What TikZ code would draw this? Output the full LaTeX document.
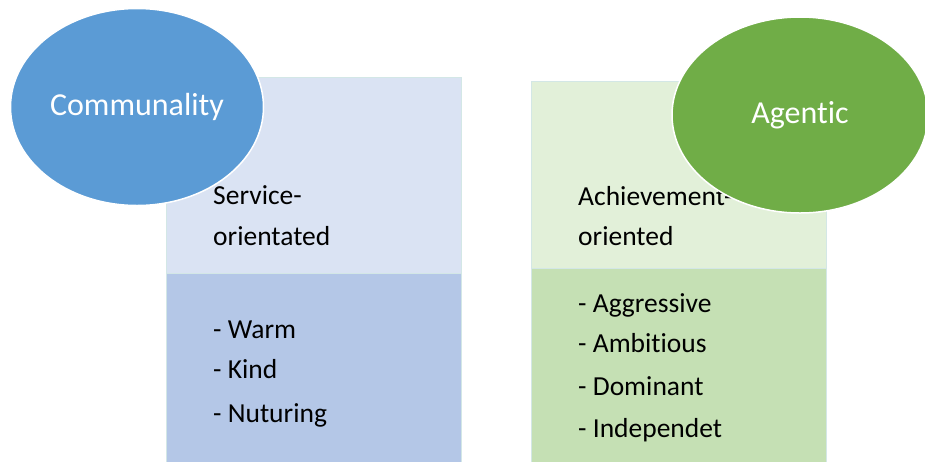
\documentclass[tikz,border=0pt]{standalone}
\usepackage{fontspec}
\setmainfont{Carlito}[Ligatures=NoCommon]
\usetikzlibrary{shapes.geometric}
\pgfdeclarelayer{background}
\pgfdeclarelayer{foreground}
\pgfsetlayers{background,main,foreground}

\definecolor{commblue}{HTML}{5B9BD5}
\definecolor{commtop}{HTML}{DAE3F3}
\definecolor{commlow}{HTML}{B4C7E7}
\definecolor{agengreen}{HTML}{70AD47}
\definecolor{agentop}{HTML}{E2F0D9}
\definecolor{agenlow}{HTML}{C5E0B4}
\definecolor{boxedge}{HTML}{D3E7E6}

\tikzset{
  panel/.style={draw=boxedge, line width=0.8pt},
  bubble/.style={ellipse, draw=white, line width=1.5pt, text=white,
    font=\fontsize{32}{38}\selectfont, inner sep=0pt},
  item/.style={anchor=base west, inner sep=0pt, font=\fontsize{27.5}{32}\selectfont}
}

\begin{document}
\begin{tikzpicture}[x=1pt, y=-1pt]
\useasboundingbox (0,0) rectangle (925,461);

\begin{pgfonlayer}{background}
\fill[white] (0,0) rectangle (925,461);
\clip (0,0) rectangle (925,461);
% communal column
\draw[panel, fill=commtop] (166,77) rectangle (461,273);
\draw[panel, fill=commlow] (166,273) rectangle (461,480);
% agentic column
\draw[panel, fill=agentop] (531,81) rectangle (826,268);
\draw[panel, fill=agenlow] (531,268) rectangle (826,480);
\end{pgfonlayer}

% headings
\node[item] (serv) at (213,204) {Service-};
\node[item] (servb) at (213,245) {orientated};
\node[item] (achv) at (578,205) {Achievement-};
\node[item] (achvb) at (578,245) {oriented};

% trait lists
\foreach \txt/\yy [count=\i] in {Warm/338, Kind/378, Nuturing/422}
  \node[item] (comm\i) at (213,\yy) {- \txt};
\foreach \txt/\yy [count=\i] in {Aggressive/312, Ambitious/352, Dominant/395, Independet/437}
  \node[item] (agen\i) at (578,\yy) {- \txt};

\begin{pgfonlayer}{foreground}
\node[bubble, fill=commblue, minimum width=253pt, minimum height=197pt] (communal) at (137,107) {Communality};
\node[bubble, fill=agengreen, minimum width=256pt, minimum height=196pt] (agentic) at (800,115) {Agentic};
\end{pgfonlayer}

\end{tikzpicture}
\end{document}
